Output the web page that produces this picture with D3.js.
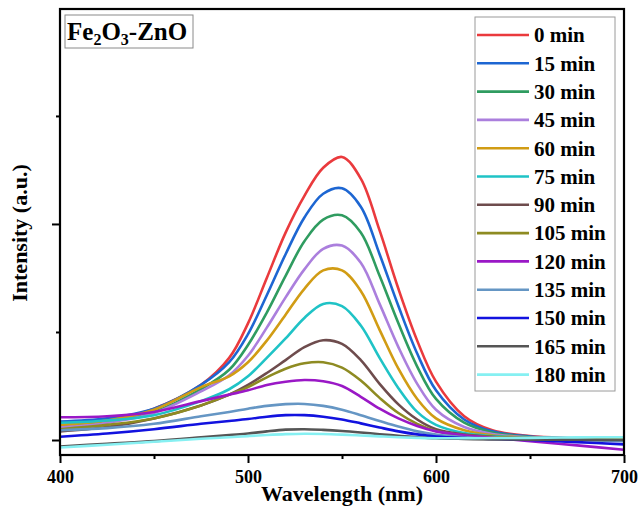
<!DOCTYPE html>
<html>
<head>
<meta charset="utf-8">
<script src="https://cdn.jsdelivr.net/npm/d3@7"></script>
<style>
  body { margin: 0; background: #fff; }
  svg { display: block; }
  text { font-family: "Liberation Serif", "Times New Roman", serif; font-weight: bold; }
</style>
</head>
<body>
<div id="chart"></div>
<script>
// wavelength grid (nm)
const wavelengths = [400, 425, 450, 475, 490, 500, 510, 520, 530, 540, 550, 560, 570, 580, 590, 600, 615, 630, 650, 675, 700];

// irradiation times
const times = ["0 min", "15 min", "30 min", "45 min", "60 min", "75 min", "90 min",
               "105 min", "120 min", "135 min", "150 min", "165 min", "180 min"];

const colors = ["#ea3a3d", "#1d66d2", "#2f9c60", "#ab7fdd", "#d19c14", "#1fc3c6", "#6e4c4d",
                "#8e8b22", "#9a18c6", "#6596c4", "#1212df", "#555555", "#86f0f2"];

// intensity (a.u.)
const i0   = [0.056, 0.088, 0.145, 0.255, 0.38, 0.54, 0.75, 0.96, 1.13, 1.26, 1.31, 1.21, 0.97, 0.70, 0.46, 0.27, 0.11, 0.045, 0.018, 0.008, 0.0];
const i15  = [0.085, 0.10, 0.145, 0.255, 0.36, 0.49, 0.67, 0.86, 1.03, 1.14, 1.165, 1.08, 0.86, 0.62, 0.40, 0.23, 0.095, 0.04, 0.016, 0.007, 0.0];
const i30  = [0.065, 0.085, 0.13, 0.235, 0.325, 0.44, 0.59, 0.76, 0.92, 1.02, 1.04, 0.96, 0.76, 0.54, 0.34, 0.19, 0.08, 0.035, 0.014, 0.006, 0.0];
const i45  = [0.06, 0.08, 0.125, 0.225, 0.30, 0.39, 0.52, 0.66, 0.79, 0.885, 0.90, 0.82, 0.63, 0.43, 0.26, 0.14, 0.06, 0.028, 0.012, 0.005, 0.0];
const i60  = [0.07, 0.09, 0.14, 0.245, 0.295, 0.36, 0.46, 0.58, 0.70, 0.785, 0.785, 0.69, 0.51, 0.33, 0.19, 0.10, 0.045, 0.022, 0.01, 0.004, 0.0];
const i75  = [0.08, 0.09, 0.115, 0.18, 0.235, 0.295, 0.38, 0.47, 0.565, 0.63, 0.62, 0.53, 0.38, 0.24, 0.13, 0.07, 0.032, 0.018, 0.01, 0.008, 0.01];
const i90  = [0.04, 0.06, 0.10, 0.16, 0.21, 0.255, 0.31, 0.37, 0.43, 0.462, 0.445, 0.37, 0.26, 0.165, 0.095, 0.05, 0.025, 0.015, 0.01, 0.007, 0.005];
const i105 = [0.05, 0.07, 0.10, 0.16, 0.21, 0.245, 0.29, 0.33, 0.355, 0.36, 0.335, 0.275, 0.195, 0.125, 0.075, 0.042, 0.022, 0.014, 0.009, 0.006, 0.005];
const i120 = [0.105, 0.11, 0.13, 0.18, 0.21, 0.23, 0.255, 0.27, 0.278, 0.272, 0.25, 0.20, 0.145, 0.10, 0.065, 0.04, 0.022, 0.01, -0.005, -0.025, -0.045];
const i135 = [0.045, 0.055, 0.075, 0.11, 0.13, 0.145, 0.158, 0.166, 0.167, 0.158, 0.14, 0.115, 0.088, 0.062, 0.04, 0.025, 0.013, 0.007, 0.003, 0.0, -0.005];
const i150 = [0.015, 0.03, 0.05, 0.075, 0.088, 0.097, 0.108, 0.115, 0.115, 0.108, 0.095, 0.077, 0.058, 0.04, 0.026, 0.016, 0.009, 0.005, 0.0, -0.01, -0.02];
const i165 = [-0.03, -0.017, -0.005, 0.012, 0.023, 0.03, 0.04, 0.048, 0.05, 0.047, 0.042, 0.035, 0.027, 0.02, 0.013, 0.008, 0.005, 0.003, 0.002, 0.001, 0.0];
const i180 = [-0.035, -0.022, -0.008, 0.006, 0.013, 0.018, 0.023, 0.027, 0.029, 0.028, 0.025, 0.021, 0.017, 0.013, 0.01, 0.008, 0.008, 0.009, 0.01, 0.012, 0.013];

const series = [i0, i15, i30, i45, i60, i75, i90, i105, i120, i135, i150, i165, i180];

const xMajor = [400, 500, 600, 700];
const xMinor = [450, 550, 650];
const yMajor = [0, 1];
const yMinor = [0.5, 1.5];

const W = 638, H = 509;
const plotL = 60, plotR = 624, plotT = 9, plotB = 455;

const svg = d3.select("#chart").append("svg")
    .attr("width", W)
    .attr("height", H);

const x = d3.scaleLinear().domain([400, 700]).range([plotL, plotR]);
const y = d3.scaleLinear().domain([-0.0694, 1.995]).range([plotB, plotT]);

// curves
const line = d3.line()
    .x((d, i) => x(wavelengths[i]))
    .y(d => y(d))
    .curve(d3.curveCatmullRom.alpha(0.5));

svg.append("clipPath").attr("id", "plot-clip")
    .append("rect")
    .attr("x", plotL).attr("y", plotT)
    .attr("width", plotR - plotL).attr("height", plotB - plotT);

svg.append("g")
    .attr("clip-path", "url(#plot-clip)")
    .selectAll("path")
    .data(series)
    .enter()
    .append("path")
    .attr("d", d => line(d))
    .attr("fill", "none")
    .attr("stroke", (d, i) => colors[i])
    .attr("stroke-width", 2.6);

// axes
const xAxis = svg.append("g")
    .attr("transform", `translate(0,${plotB})`)
    .call(d3.axisBottom(x).tickValues(xMajor).tickSize(8).tickSizeOuter(0).tickFormat(d3.format("d")));
svg.append("g")
    .attr("transform", `translate(0,${plotB})`)
    .call(d3.axisBottom(x).tickValues(xMinor).tickSize(4).tickSizeOuter(0).tickFormat(""));

svg.append("g")
    .attr("transform", `translate(${plotL},0)`)
    .call(d3.axisLeft(y).tickValues(yMajor).tickSize(8).tickSizeOuter(0).tickFormat(""));
svg.append("g")
    .attr("transform", `translate(${plotL},0)`)
    .call(d3.axisLeft(y).tickValues(yMinor).tickSize(4).tickSizeOuter(0).tickFormat(""));

svg.selectAll(".domain").remove();
svg.selectAll(".tick line").attr("stroke", "#000").attr("stroke-width", 2);
xAxis.selectAll(".tick text")
    .attr("fill", "#000")
    .attr("y", 15)
    .style("font-size", "18px")
    .style("font-family", "'Liberation Serif', serif")
    .style("font-weight", "bold");

// frame
svg.append("rect")
    .attr("x", plotL).attr("y", plotT)
    .attr("width", plotR - plotL).attr("height", plotB - plotT)
    .attr("fill", "none")
    .attr("stroke", "#000")
    .attr("stroke-width", 2.2);

// axis titles
svg.append("text")
    .attr("x", 342)
    .attr("y", 501)
    .attr("text-anchor", "middle")
    .style("font-size", "22px")
    .text("Wavelength (nm)");

svg.append("text")
    .attr("transform", "translate(27,233) rotate(-90)")
    .attr("text-anchor", "middle")
    .style("font-size", "22px")
    .text("Intensity (a.u.)");

// sample label box
svg.append("rect")
    .attr("x", 65).attr("y", 15)
    .attr("width", 128).attr("height", 33)
    .attr("fill", "#fff")
    .attr("stroke", "#8a8a8a")
    .attr("stroke-width", 1);

const title = svg.append("text")
    .attr("x", 67)
    .attr("y", 40)
    .style("font-size", "25px");
title.append("tspan").text("Fe");
title.append("tspan").attr("dy", 5).style("font-size", "16px").text("2");
title.append("tspan").attr("dy", -5).text("O");
title.append("tspan").attr("dy", 5).style("font-size", "16px").text("3");
title.append("tspan").attr("dy", -5).text("-ZnO");

// legend
svg.append("rect")
    .attr("x", 475).attr("y", 17)
    .attr("width", 140).attr("height", 374)
    .attr("fill", "#fff")
    .attr("stroke", "#9a9a9a")
    .attr("stroke-width", 1);

const legend = svg.append("g")
    .selectAll("g")
    .data(times)
    .enter()
    .append("g")
    .attr("transform", (d, i) => `translate(0,${35 + i * 28.3})`);

legend.append("line")
    .attr("x1", 477).attr("x2", 529)
    .attr("stroke", (d, i) => colors[i])
    .attr("stroke-width", 2.6);

legend.append("text")
    .attr("x", 534)
    .attr("dy", "0.35em")
    .style("font-size", "21px")
    .text(d => d);
</script>
</body>
</html>
